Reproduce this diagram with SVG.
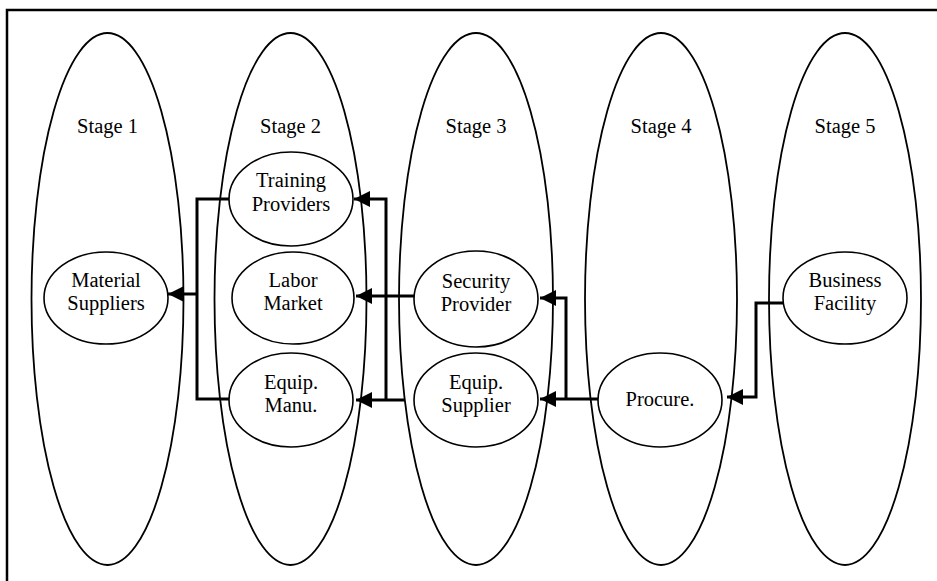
<svg xmlns="http://www.w3.org/2000/svg" width="937" height="581" viewBox="0 0 937 581">
<defs>
<style>
.stage{fill:none;stroke:#000;stroke-width:1.8}
.node{fill:#fff;stroke:#000;stroke-width:1.6}
text{font-family:'Liberation Serif','Times New Roman',serif;font-size:20.5px;fill:#000;text-anchor:middle}
.c{fill:none;stroke:#000;stroke-width:3}
</style>
<marker id="ah" viewBox="0 0 16 16" refX="16" refY="8" markerWidth="16" markerHeight="16" markerUnits="userSpaceOnUse" orient="auto">
<path d="M0,0 L16,8 L0,16 Z" fill="#000"/>
</marker>
</defs>
<rect x="0" y="0" width="937" height="581" fill="#fff"/>
<rect x="7" y="10" width="940" height="590" fill="none" stroke="#000" stroke-width="2.5"/>
<g id="stages" font-family="Liberation Serif, serif">
<g id="stage1"><ellipse class="stage" cx="107.5" cy="299" rx="76" ry="266"/><text x="107.5" y="133">Stage 1</text></g>
<g id="stage2"><ellipse class="stage" cx="290.5" cy="299" rx="76" ry="266"/><text x="290.5" y="133">Stage 2</text></g>
<g id="stage3"><ellipse class="stage" cx="476" cy="299" rx="77" ry="266"/><text x="476" y="133">Stage 3</text></g>
<g id="stage4"><ellipse class="stage" cx="661" cy="299" rx="76" ry="266"/><text x="661" y="133">Stage 4</text></g>
<g id="stage5"><ellipse class="stage" cx="845" cy="299" rx="76" ry="266"/><text x="845" y="133">Stage 5</text></g>
</g>
<g id="connectors">
<path class="c" d="M229,199 H197 V399 H229"/>
<path class="c" d="M197,294 H168" marker-end="url(#ah)"/>
<path class="c" d="M386,399 V199 H354" marker-end="url(#ah)"/>
<path class="c" d="M416,296 H356" marker-end="url(#ah)"/>
<path class="c" d="M405,400 H356" marker-end="url(#ah)"/>
<path class="c" d="M566,399 V298 H540" marker-end="url(#ah)"/>
<path class="c" d="M598,399 H540" marker-end="url(#ah)"/>
<path class="c" d="M786,303 H756 V397 H727" marker-end="url(#ah)"/>
</g>
<g id="material-suppliers"><ellipse class="node" cx="106" cy="298" rx="62" ry="46"/><text x="106" y="287">Material</text><text x="106" y="310">Suppliers</text></g>
<g id="training-providers"><ellipse class="node" cx="291" cy="199" rx="62" ry="47"/><text x="291" y="187">Training</text><text x="291" y="211">Providers</text></g>
<g id="labor-market"><ellipse class="node" cx="293" cy="298" rx="61" ry="46"/><text x="293" y="287">Labor</text><text x="293" y="310">Market</text></g>
<g id="equip-manu"><ellipse class="node" cx="291" cy="400" rx="62" ry="47"/><text x="291" y="389">Equip.</text><text x="291" y="412">Manu.</text></g>
<g id="security-provider"><ellipse class="node" cx="476" cy="299" rx="62" ry="48"/><text x="476" y="288">Security</text><text x="476" y="311">Provider</text></g>
<g id="equip-supplier"><ellipse class="node" cx="476" cy="400" rx="62" ry="47"/><text x="476" y="389">Equip.</text><text x="476" y="412">Supplier</text></g>
<g id="procure"><ellipse class="node" cx="660" cy="400" rx="62" ry="47"/><text x="660" y="406">Procure.</text></g>
<g id="business-facility"><ellipse class="node" cx="845" cy="298" rx="62" ry="46"/><text x="845" y="287">Business</text><text x="845" y="310">Facility</text></g>
</svg>
